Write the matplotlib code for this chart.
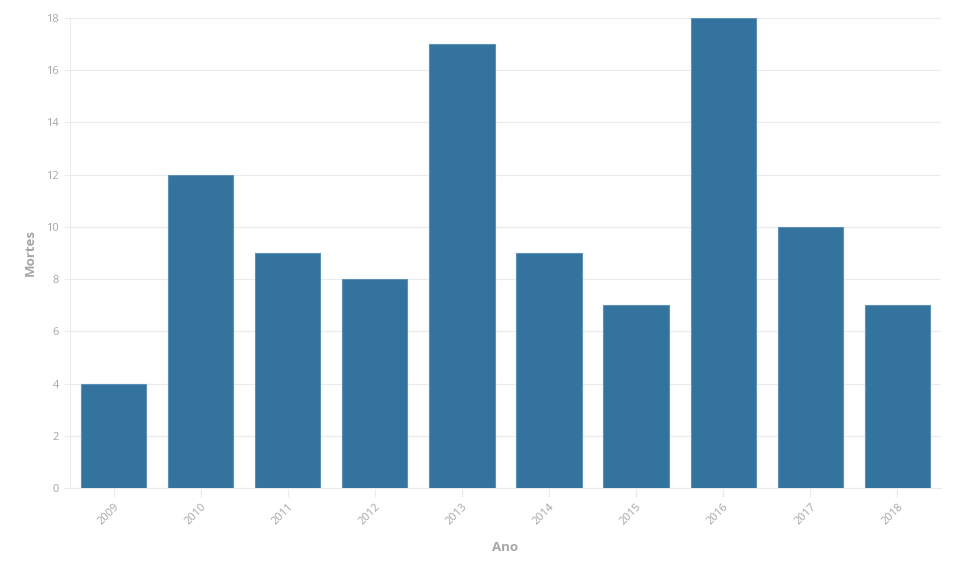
import matplotlib
matplotlib.use("Agg")
import matplotlib.pyplot as plt
from matplotlib.transforms import ScaledTranslation

plt.rcParams["font.family"] = ["Open Sans", "DejaVu Sans"]

anos = ["2009", "2010", "2011", "2012", "2013", "2014", "2015", "2016", "2017", "2018"]
mortes = [4, 12, 9, 8, 17, 9, 7, 18, 10, 7]

texto = "#a6a6a6"
grade = "#ebebeb"

fig = plt.figure(figsize=(9.6, 5.72), dpi=100)
ax = fig.add_axes([0.0729, 0.1469, 0.9073, 0.8216])

x = range(len(anos))
ax.bar(x, mortes, width=0.75, color="#33739e", edgecolor="#5d92b8", linewidth=0.8, zorder=3)

ax.set_xlim(-0.5, len(anos) - 0.5)
ax.set_ylim(0, 18)
ax.set_yticks(range(0, 19, 2))
ax.set_xticks(list(x))
ax.set_xticklabels(anos, rotation=45, ha="right", rotation_mode="anchor")

# shift rotated labels a little to the right, like the original
desloc = ScaledTranslation(5 / 100, 0, fig.dpi_scale_trans)
for lbl in ax.get_xticklabels():
    lbl.set_transform(lbl.get_transform() + desloc)

ax.grid(axis="y", color=grade, linewidth=0.8, zorder=0)
for s in ["top", "right"]:
    ax.spines[s].set_visible(False)
ax.spines["left"].set_color(grade)
ax.spines["bottom"].set_color(grade)

ax.tick_params(axis="both", colors=grade, labelcolor=texto, labelsize=8, width=0.8)
ax.tick_params(axis="y", length=4.5)
ax.tick_params(axis="x", length=6.5, pad=3)

ax.set_xlabel("Ano", color=texto, fontsize=9.5, fontweight="bold", labelpad=10)
ax.set_ylabel("Mortes", color=texto, fontsize=9.5, fontweight="bold", labelpad=7)

fig.savefig("out.png", dpi=100, facecolor="white")
